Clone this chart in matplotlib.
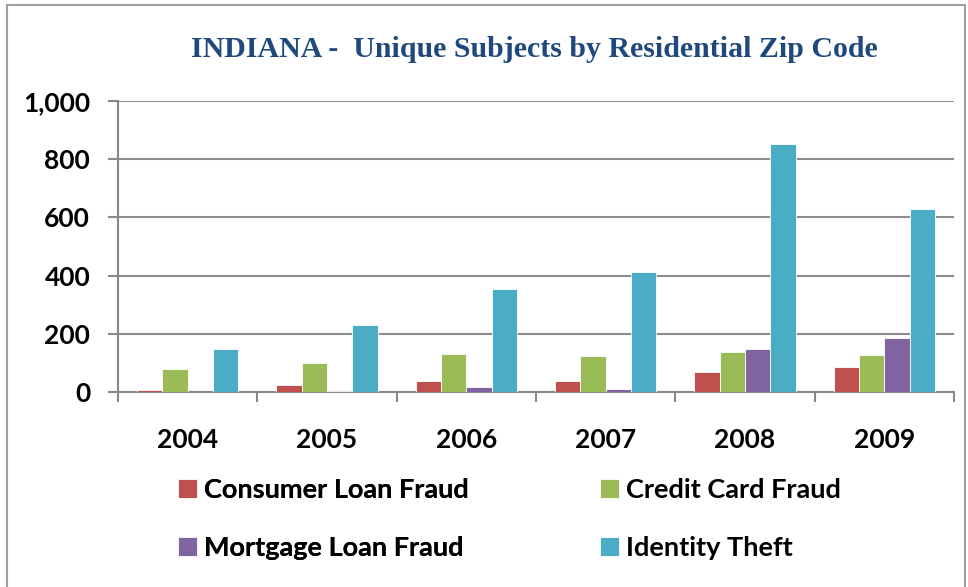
import matplotlib.pyplot as plt
import numpy as np
from matplotlib.patches import Rectangle
from matplotlib.ticker import FuncFormatter

years = ['2004', '2005', '2006', '2007', '2008', '2009']
consumer_loan = [7, 24, 38, 38, 70, 87]
credit_card = [79, 99, 131, 124, 139, 128]
mortgage_loan = [0, 3, 16, 11, 147, 184]
identity_theft = [147, 230, 354, 412, 852, 629]

series = [
    ('Consumer Loan Fraud', consumer_loan, '#C0504D'),
    ('Credit Card Fraud', credit_card, '#9BBB59'),
    ('Mortgage Loan Fraud', mortgage_loan, '#8064A2'),
    ('Identity Theft', identity_theft, '#4BACC6'),
]

fig = plt.figure(figsize=(9.68, 5.87), dpi=100)
ax = fig.add_axes([118 / 968, 1 - 392 / 587, (954 - 118) / 968, (392 - 101) / 587])

x = np.arange(len(years))
w = 0.182
bars = []
for i, (name, vals, col) in enumerate(series):
    b = ax.bar(x + (i - 1.5) * w, vals, w, color=col, edgecolor='white', linewidth=0.6,
               label=name, zorder=3)
    bars.append(b)

ax.set_xlim(-0.5, len(years) - 0.5)
ax.set_ylim(0, 1000)
ax.set_yticks(range(0, 1001, 200))
ax.yaxis.set_major_formatter(FuncFormatter(lambda v, p: f'{int(v):,}'))
ax.set_xticks(x)
ax.set_xticklabels(years)
ax.set_xticks(np.arange(-0.5, len(years)), minor=True)
ax.tick_params(axis='x', which='major', length=0, pad=26)
ax.tick_params(axis='x', which='minor', length=7, width=1.5, color='#888888')
ax.tick_params(axis='y', length=7, width=1.5, color='#888888', pad=13)
for lab in ax.get_xticklabels() + ax.get_yticklabels():
    lab.set_fontfamily('Lato')
    lab.set_fontweight('bold')
    lab.set_fontsize(19)

ax.grid(axis='y', color='#8C8C8C', linewidth=1.5, zorder=0)
for s in ['top', 'right']:
    ax.spines[s].set_visible(False)
for s in ['left', 'bottom']:
    ax.spines[s].set_color('#888888')
    ax.spines[s].set_linewidth(1.5)

fig.text(0.552, 0.915, 'INDIANA -  Unique Subjects by Residential Zip Code',
         ha='center', va='center', fontsize=21.5, fontweight='bold',
         fontfamily='Liberation Serif', color='#1F497D')

leg_kw = dict(frameon=False, prop={'family': 'Lato', 'weight': 'bold', 'size': 19.5},
              handlelength=0.7, handleheight=0.7, handletextpad=0.25,
              labelspacing=1.25, borderaxespad=0, borderpad=0)
leg1 = fig.legend([bars[0], bars[2]], [series[0][0], series[2][0]], loc='upper left',
                  bbox_to_anchor=(178 / 968, 1 - 478 / 587), **leg_kw)
fig.add_artist(leg1)
fig.legend([bars[1], bars[3]], [series[1][0], series[3][0]], loc='upper left',
           bbox_to_anchor=(600 / 968, 1 - 478 / 587), **leg_kw)

fig.add_artist(Rectangle((7 / 968, -0.01), 958 / 968, 1.01 - 5 / 587, transform=fig.transFigure,
                         fill=False, edgecolor='#A0A0A0', linewidth=1.5))

fig.savefig('out.png', dpi=100)
